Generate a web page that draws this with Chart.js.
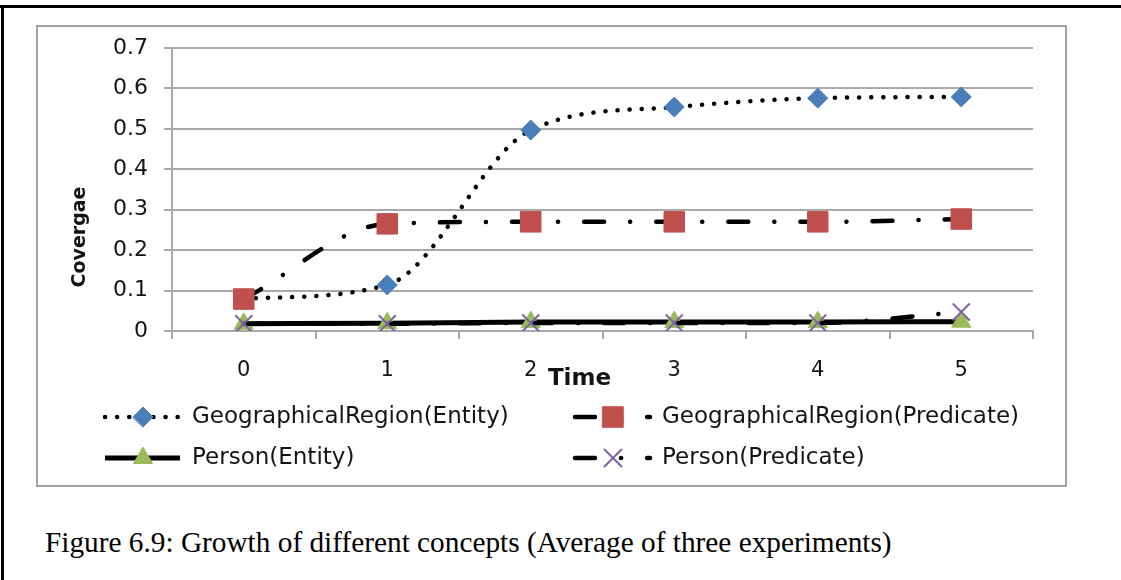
<!DOCTYPE html>
<html lang="en">
<head>
<meta charset="UTF-8">
<title>Growth of different concepts</title>
<script src="https://cdn.jsdelivr.net/npm/chart.js"></script>
<style>
  body { margin: 0; width: 1121px; height: 580px; background: #fff; position: relative; overflow: hidden; }
  .rule-top { position: absolute; left: 0; top: 5px; width: 1121px; height: 3px; background: #000; }
  .rule-left { position: absolute; left: 1px; top: 5px; width: 3px; height: 575px; background: #000; }
  .frame { position: absolute; left: 36px; top: 25px; width: 1027px; height: 458px; border: 2px solid #a3a3a3; }
  .frame canvas { position: absolute; left: 0; top: 0; }
  .caption { position: absolute; left: 45px; top: 525px; font-family: "Liberation Serif", serif; font-size: 29.3px; line-height: 34px;
             color: #000; white-space: nowrap; }
</style>
</head>
<body>
  <div class="rule-top"></div>
  <div class="rule-left"></div>
  <div class="frame">
    <canvas id="coverage" width="1027" height="458"></canvas>
  </div>
  <div class="caption">Figure 6.9: Growth of different concepts (Average of three experiments)</div>

<script>
  // time steps and y axis labels
  const timeLabels = ['0', '1', '2', '3', '4', '5'];
  const yTickLabels = ['0', '0.1', '0.2', '0.3', '0.4', '0.5', '0.6', '0.7'];

  // average coverage per concept
  const seriesNames = ['GeographicalRegion(Entity)', 'GeographicalRegion(Predicate)', 'Person(Entity)', 'Person(Predicate)'];
  const geoEntity = [0.08, 0.114, 0.497, 0.554, 0.576, 0.579];
  const geoPredicate = [0.079, 0.265, 0.27, 0.27, 0.27, 0.277];
  const personEntity = [0.018, 0.019, 0.022, 0.022, 0.022, 0.023];
  const personPredicate = [0.018, 0.018, 0.02, 0.02, 0.02, 0.047];

  const gridGray = '#a9a9a9';
  const textColor = '#141414';
  const dotted = [0.1, 12];
  const dashDot = [20, 26, 0.1, 26];

  Chart.defaults.font.family = '"DejaVu Sans", sans-serif';

  function series(i, values, line, marker) {
    return Object.assign({
      label: seriesNames[i],
      data: values,
      borderColor: '#000',
      borderCapStyle: 'round',
      cubicInterpolationMode: 'monotone',
      order: 4 - i,   // later series sit on top
      pointBorderWidth: 1
    }, line, marker);
  }

  // axis titles + two column legend below the plot
  const decorations = {
    id: 'decorations',
    afterDraw(chart) {
      const ctx = chart.ctx;
      const a = chart.chartArea;
      ctx.save();
      ctx.fillStyle = textColor;
      ctx.textAlign = 'center';
      ctx.textBaseline = 'middle';
      ctx.font = 'bold 23px "DejaVu Sans"';
      ctx.fillText('Time', (a.left + a.right) / 2 - 23, a.bottom + 48);
      ctx.translate(a.left - 92, a.bottom - 94);
      ctx.rotate(-Math.PI / 2);
      ctx.font = 'bold 19px "DejaVu Sans"';
      ctx.fillText('Covergae', 0, 0);
      ctx.restore();

      const slots = [[67, 390], [537, 390], [67, 431], [537, 431]];
      chart.data.datasets.forEach((ds, i) => {
        const [x, y] = slots[i];
        ctx.save();
        ctx.strokeStyle = ds.borderColor;
        ctx.lineWidth = ds.borderWidth;
        ctx.lineCap = ds.borderCapStyle;
        ctx.setLineDash(ds.borderDash || []);
        ctx.beginPath();
        ctx.moveTo(x, y);
        ctx.lineTo(x + 75, y);
        ctx.stroke();
        ctx.setLineDash([]);
        const opts = chart.getDatasetMeta(i).data[0].options;
        ctx.fillStyle = opts.backgroundColor;
        ctx.strokeStyle = opts.borderColor;
        ctx.lineWidth = opts.borderWidth;
        Chart.helpers.drawPoint(ctx, opts, x + 38, y);
        ctx.fillStyle = textColor;
        ctx.font = '23px "DejaVu Sans"';
        ctx.textAlign = 'left';
        ctx.textBaseline = 'middle';
        ctx.fillText(ds.label, x + 87, y);
        ctx.restore();
      });
    }
  };

  new Chart(document.getElementById('coverage'), {
    type: 'line',
    data: {
      labels: timeLabels,
      datasets: [
        series(0, geoEntity, { borderWidth: 4.5, borderDash: dotted },
          { pointStyle: 'rectRot', pointRadius: 10, pointBackgroundColor: '#4a7ebb', pointBorderColor: '#4a7ebb' }),
        series(1, geoPredicate, { borderWidth: 4.5, borderDash: dashDot },
          { pointStyle: 'rect', pointRadius: 14.5, pointBackgroundColor: '#c0504d', pointBorderColor: '#c0504d' }),
        series(2, personEntity, { borderWidth: 5, borderCapStyle: 'butt' },
          { pointStyle: 'triangle', pointRadius: 11, pointBackgroundColor: '#9bbb59', pointBorderColor: '#9bbb59' }),
        series(3, personPredicate, { borderWidth: 4.5, borderDash: dashDot },
          { pointStyle: 'crossRot', pointRadius: 12, pointBackgroundColor: '#8064a2', pointBorderColor: '#8064a2', pointBorderWidth: 2 })
      ]
    },
    options: {
      responsive: false,
      animation: false,
      devicePixelRatio: 1,
      layout: { padding: { top: 21, right: 32, left: 0, bottom: 0 } },
      plugins: { legend: { display: false }, tooltip: { enabled: false } },
      scales: {
        x: {
          offset: true,
          grid: { offset: true, drawOnChartArea: false, color: gridGray, lineWidth: 2, tickLength: 8 },
          border: { color: gridGray, width: 2 },
          ticks: { padding: 19, color: textColor, font: { size: 21 }, maxRotation: 0 },
          afterFit(scale) { scale.height = 154; }
        },
        y: {
          min: 0,
          max: 0.7,
          grid: { color: gridGray, lineWidth: 2, tickLength: 8 },
          border: { color: gridGray, width: 2 },
          ticks: { stepSize: 0.1, padding: 16, color: textColor, font: { size: 22 },
                   callback: (v, i) => yTickLabels[i] },
          afterFit(scale) {
            scale.width = 134;
            scale.paddingTop = 0;
            scale.paddingBottom = 0;
          }
        }
      }
    },
    plugins: [decorations]
  });
</script>
</body>
</html>
